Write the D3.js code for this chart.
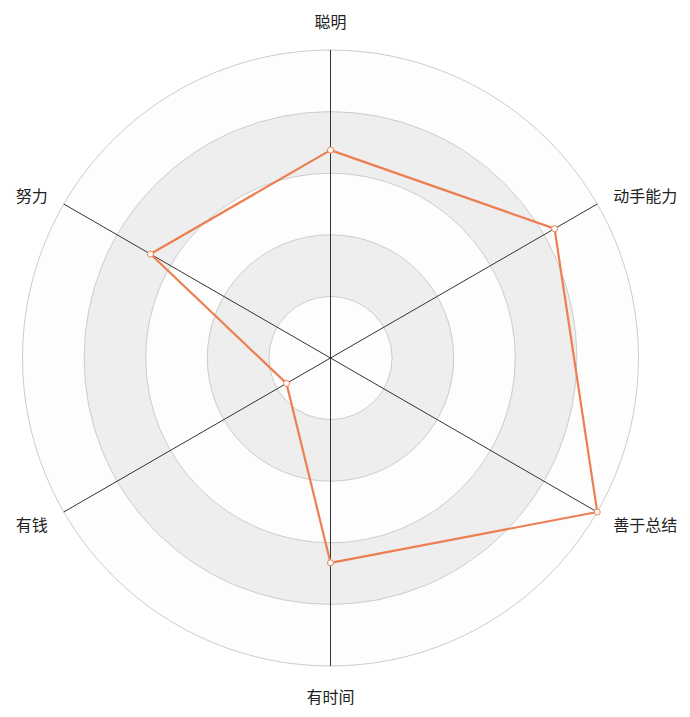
<!DOCTYPE html>
<html><head><meta charset="utf-8">
<script src="https://cdn.jsdelivr.net/npm/d3@7"></script>
<style>html,body{margin:0;padding:0;background:#fff;}svg{display:block;}</style>
</head><body>
<svg id="chart" width="690" height="717"></svg>
<script>
const indicators = ["聪明", "动手能力", "善于总结", "有时间", "有钱", "努力"];
const maxValue = 100;
const values = [67.5, 84, 100, 66.5, 16.5, 67.5];
const splitCount = 5;

const W = 690, H = 717, cx = 330.5, cy = 358, R = 308;
const svg = d3.select("#chart");
const g = svg.append("g").attr("transform", `translate(${cx},${cy})`);
const r = d3.scaleLinear().domain([0, maxValue]).range([0, R]);
const angle = d3.scaleLinear().domain([0, indicators.length]).range([0, 2 * Math.PI]);
const rings = d3.range(1, splitCount + 1).map(i => i * maxValue / splitCount);
const areaColors = ["rgba(250,250,250,0.3)", "rgba(200,200,200,0.3)"];

// split areas
const arc = d3.arc();
g.selectAll("path.area").data(rings).join("path").attr("class", "area")
  .attr("d", (d, i) => arc({innerRadius: i === 0 ? 0 : r(rings[i - 1]), outerRadius: r(d), startAngle: 0, endAngle: 2 * Math.PI}))
  .attr("fill", (d, i) => areaColors[i % 2]);
// split lines
g.selectAll("circle.split").data(rings).join("circle").attr("class", "split")
  .attr("r", d => r(d)).attr("fill", "none").attr("stroke", "#cccccc").attr("stroke-width", 1);
// axes
const pt = (i, v) => [Math.sin(angle(i)) * r(v), -Math.cos(angle(i)) * r(v)];
g.selectAll("line.axis").data(indicators).join("line").attr("class", "axis")
  .attr("x1", 0).attr("y1", 0)
  .attr("x2", (d, i) => pt(i, maxValue)[0]).attr("y2", (d, i) => pt(i, maxValue)[1])
  .attr("stroke", "#333").attr("stroke-width", 1);
// labels
g.selectAll("text.name").data(indicators).join("text").attr("class", "name")
  .attr("font-family", "'Noto Sans CJK SC', sans-serif").attr("font-size", 16).attr("fill", "#222")
  .each(function(d, i) {
    const a = angle(i), s = Math.sin(a), c = -Math.cos(a);
    const rr = R + 15;
    let x = s * rr, y = c * rr;
    const t = d3.select(this).text(d).attr("dominant-baseline", "central");
    if (Math.abs(s) < 0.01) { t.attr("text-anchor", "middle"); y += (c < 0 ? -14 : 15); }
    else { t.attr("text-anchor", s > 0 ? "start" : "end"); x += s > 0 ? 3 : -3; y += c < 0 ? -2 : 4; }
    t.attr("x", x).attr("y", y);
  });
// series
const line = d3.lineRadial().angle((d, i) => angle(i)).radius(d => r(d)).curve(d3.curveLinearClosed);
const color = "#ec7f52";
g.append("path").attr("d", line(values)).attr("fill", "none").attr("stroke", color).attr("stroke-width", 2.2).attr("stroke-linejoin", "round");
g.selectAll("circle.pt").data(values).join("circle").attr("class", "pt")
  .attr("cx", (d, i) => pt(i, d)[0]).attr("cy", (d, i) => pt(i, d)[1])
  .attr("r", 3).attr("fill", "#fff").attr("stroke", color).attr("stroke-width", 1);
</script>
</body></html>
